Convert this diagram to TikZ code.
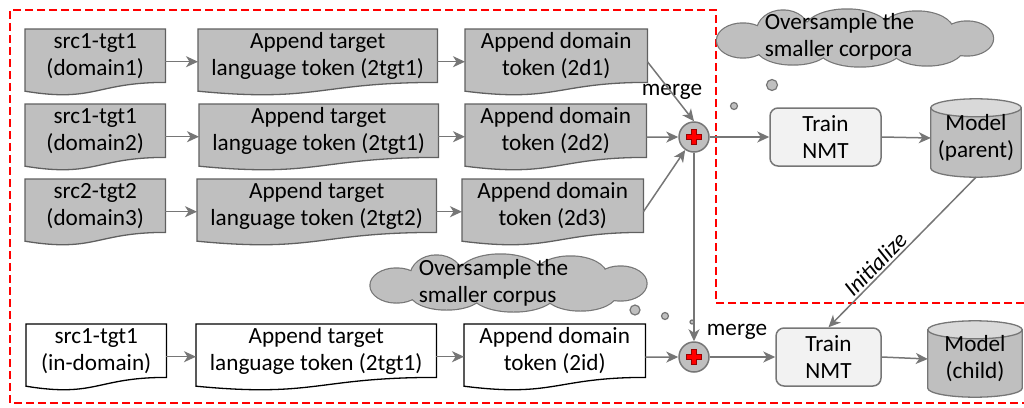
\documentclass[tikz,border=0pt]{standalone}
\usepackage{fontspec}
\setmainfont{Carlito}
\usetikzlibrary{arrows.meta,calc,backgrounds}
\definecolor{boxfill}{RGB}{191,191,191}
\definecolor{boxline}{RGB}{96,96,96}
\definecolor{arrowc}{RGB}{118,118,118}
\definecolor{trainfill}{RGB}{242,242,242}
\definecolor{cyltop}{RGB}{217,217,217}
\def\cloudpuffs{(-112,2) ellipse [x radius=26, y radius=17]
  (-72,-7) ellipse [x radius=26, y radius=21]
  (-8,-9) ellipse [x radius=42, y radius=20]
  (62,-8) ellipse [x radius=36, y radius=19]
  (112,0) ellipse [x radius=26, y radius=17]
  (72,10) ellipse [x radius=36, y radius=17]
  (5,10) ellipse [x radius=42, y radius=18]
  (-62,10) ellipse [x radius=36, y radius=16]
  (0,0) ellipse [x radius=105, y radius=18]}
\newcommand\mycloudshape[1]{%
  \begin{scope}[shift={#1}]
    \draw[draw=arrowc, line width=2.4pt] \cloudpuffs;
    \fill[boxfill] \cloudpuffs;
  \end{scope}}
\begin{document}
\begin{tikzpicture}[x=1pt,y=-1pt,
  font=\fontsize{23.2}{27}\selectfont,
  docnode/.style={minimum width=#1, minimum height=53pt, inner sep=0pt, align=center, anchor=north west},
  arr/.style={draw=arrowc, line width=1.5pt, -{Stealth[length=12pt,width=11pt,inset=3.5pt]}},
  mergec/.style={circle, minimum size=30pt, inner sep=0pt, fill=boxfill, draw=arrowc, line width=1.5pt,
    path picture={\filldraw[red, draw=red!60!black, line width=0.5pt] (path picture bounding box.center)
      ++(-7.5,-2.5) -- ++(5,0) -- ++(0,-5) -- ++(5,0) -- ++(0,5) -- ++(5,0) -- ++(0,5) -- ++(-5,0)
      -- ++(0,5) -- ++(-5,0) -- ++(0,-5) -- ++(-5,0) -- cycle;}},
  trainbox/.style={rectangle, rounded corners=8pt, fill=trainfill, draw=arrowc, line width=1.5pt, align=center, inner sep=0pt, minimum height=58pt},
  cylnode/.style={minimum width=#1, inner sep=0pt, align=center},
  bubble/.style={fill=boxfill, draw=arrowc, line width=1.2pt},
  frame/.style={red, line width=1.5pt, dash pattern=on 8pt off 4pt}
]
\useasboundingbox (0,0) rectangle (1024,407);

% frame
\draw[frame] (1024,303) -- (716,303) -- (716,10) -- (10,10) -- (10,403) -- (1024,403);

% clouds
\mycloudshape{(855,38.5)}
\node[align=left, inner sep=0pt] (ct1) at (839.5,37) {Oversample the\\smaller corpora};
\draw[bubble] (772,85) circle (5.5);
\draw[bubble] (734,106) circle (3.5);
\mycloudshape{(508.5,283.5)}
\node[align=left, inner sep=0pt] (ct2) at (493.5,283) {Oversample the\\smaller corpus};
\draw[bubble] (635,310) circle (5);
\draw[bubble] (665,316) circle (3.5);
\draw[bubble] (692,322) circle (2);

% document nodes
\node[docnode=140pt] (a1) at (25,29) {src1-tgt1\\(domain1)};
\node[docnode=239pt] (b1) at (198,29) {Append target\\language token (2tgt1)};
\node[docnode=182pt] (c1) at (465,29) {Append domain\\token (2d1)};
\node[docnode=140pt] (a2) at (25,104) {src1-tgt1\\(domain2)};
\node[docnode=239pt] (b2) at (199,104) {Append target\\language token (2tgt1)};
\node[docnode=181pt] (c2) at (465,104) {Append domain\\token (2d2)};
\node[docnode=140pt] (a3) at (25,179) {src2-tgt2\\(domain3)};
\node[docnode=239pt] (b3) at (197,179) {Append target\\language token (2tgt2)};
\node[docnode=181pt] (c3) at (462,179) {Append domain\\token (2d3)};
\node[docnode=140pt] (a4) at (26,324) {src1-tgt1\\(in-domain)};
\node[docnode=240pt] (b4) at (196,324) {Append target\\language token (2tgt1)};
\node[docnode=181pt] (c4) at (464,324) {Append domain\\token (2id)};

\begin{scope}[on background layer]
\foreach \nd/\f/\d in {a1/boxfill/boxline,b1/boxfill/boxline,c1/boxfill/boxline,
                      a2/boxfill/boxline,b2/boxfill/boxline,c2/boxfill/boxline,
                      a3/boxfill/boxline,b3/boxfill/boxline,c3/boxfill/boxline,
                      a4/white/black,b4/white/black,c4/white/black}{
  \filldraw[fill=\f, draw=\d, line width=1.3pt]
    let \p1=(\nd.north west), \p2=(\nd.south east) in
    (\p1) -- (\x2,\y1) -- (\p2)
    .. controls ({0.5*\x1+0.5*\x2},\y2) and ({0.5*\x1+0.5*\x2},{\y2-0.381*(\y1-\y2)}) ..
    (\x1,{\y2-0.1646*(\y1-\y2)}) -- cycle;
}
\end{scope}

% merge nodes
\node[mergec] (m1) at (694,137) {};
\node[mergec] (m2) at (694,357) {};
\node (ml1) at (672,92) {merge};
\node (ml2) at (737,332) {merge};

% train nodes
\node[trainbox, minimum width=111pt] (tp) at (825.5,137) {Train\\NMT};
\node[trainbox, minimum width=105pt] (tc) at (828.5,357) {Train\\NMT};

% cylinders
\node[cylnode=90pt, minimum height=78pt] (mp) at (976,138) {Model\\(parent)};
\node[cylnode=94pt, minimum height=76pt] (mc) at (975,359) {Model\\(child)};
\begin{scope}[on background layer]
\foreach \nd in {mp,mc}{
  \filldraw[fill=boxfill, draw=arrowc, line width=1.3pt]
    let \p1=(\nd.north west), \p2=(\nd.south east) in
    (\x1,\y1-9pt) -- (\x1,\y2+9pt)
    arc[start angle=180, end angle=360, x radius={0.5*(\x2-\x1)}, y radius=9pt]
    -- (\x2,\y1-9pt) -- cycle;
  \filldraw[fill=cyltop, draw=arrowc, line width=1.3pt]
    let \p1=(\nd.north west), \p2=(\nd.south east) in
    ({0.5*\x1+0.5*\x2},\y1-9pt) ellipse [x radius={0.5*(\x2-\x1)}, y radius=9pt];
}
\end{scope}

% arrows
\foreach \r in {1,2,3,4}{
  \draw[arr] ([yshift=-6pt]a\r.east) -- ([yshift=-6pt]b\r.west);
  \draw[arr] ([yshift=-6pt]b\r.east) -- ([yshift=-6pt]c\r.west);
}
\draw[arr] ([yshift=-6pt]c1.east) -- (m1.north);
\draw[arr] ([yshift=-6.5pt]c2.east) -- (m1.west);
\draw[arr] ([yshift=-6pt]c3.east) -- (m1);
\draw[arr] ([yshift=-6.5pt]c4.east) -- (m2.west);
\draw[arr] (m1.south) -- (m2.north);
\draw[arr] (m1.east) -- (tp.west);
\draw[arr] (m2.east) -- (tc.west);
\draw[arr] (tp.east) -- (mp.west);
\draw[arr] (tc.east) -- (mc.west);
\draw[arr] (mp.south) -- (tc.north) node[pos=0.63, sloped, above, inner sep=2pt] {\itshape Initialize};
\end{tikzpicture}
\end{document}
